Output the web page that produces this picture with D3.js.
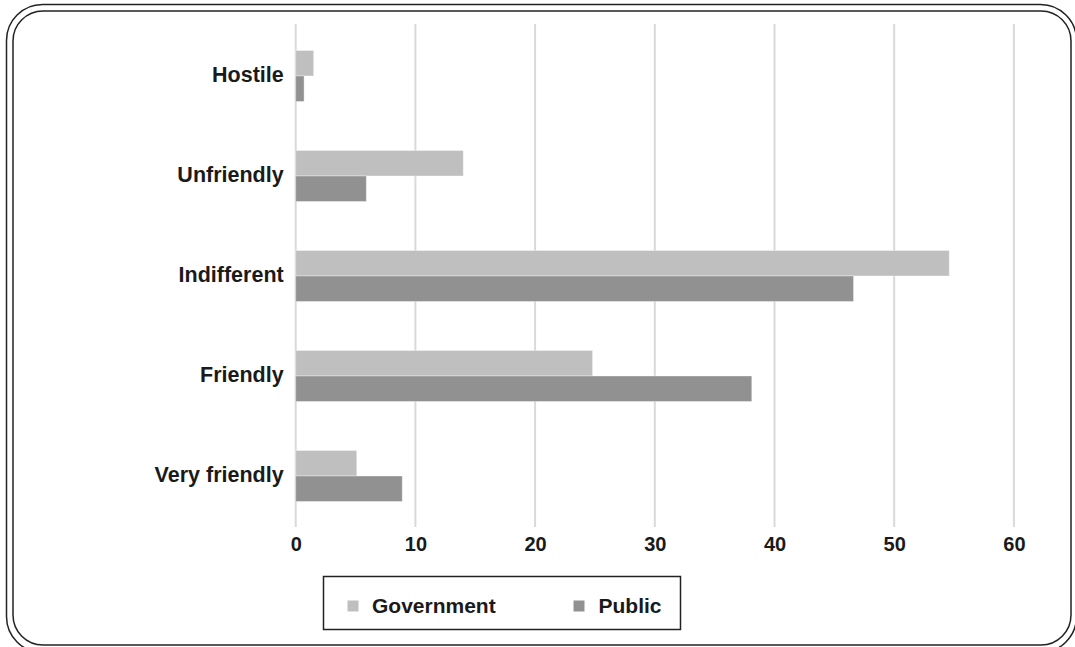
<!DOCTYPE html>
<html>
<head>
<meta charset="utf-8">
<script src="https://cdn.jsdelivr.net/npm/d3@7"></script>
<style>
  html, body { margin: 0; padding: 0; background: #fff; }
  svg { display: block; }
  text { font-family: "Liberation Sans", Arial, sans-serif; font-weight: bold; fill: #1a1a1a; }
</style>
</head>
<body>
<svg id="chart" width="1075" height="647"></svg>
<script>
// Attitude categories, top to bottom
const categories = ["Hostile", "Unfriendly", "Indifferent", "Friendly", "Very friendly"];
// Percentage of respondents per category
const governmentValues = [1.5, 14.0, 54.6, 24.8, 5.1];
const publicValues = [0.7, 5.9, 46.6, 38.1, 8.9];
const seriesNames = ["Government", "Public"];
const seriesColors = ["#bfbfbf", "#919191"];
const xTicks = [0, 10, 20, 30, 40, 50, 60];

const svg = d3.select("#chart");

// Double rounded frame
svg.append("rect")
  .attr("x", 6.5).attr("y", 4.5)
  .attr("width", 1070).attr("height", 648)
  .attr("rx", 36).attr("ry", 36)
  .attr("fill", "none").attr("stroke", "#222").attr("stroke-width", 1.5);
svg.append("rect")
  .attr("x", 13).attr("y", 11)
  .attr("width", 1058).attr("height", 634)
  .attr("rx", 30).attr("ry", 30)
  .attr("fill", "none").attr("stroke", "#222").attr("stroke-width", 1.5);

const plot = { left: 295.7, right: 1013.9, top: 26, bottom: 526 };

const x = d3.scaleLinear().domain([0, 60]).range([plot.left, plot.right]);
const y = d3.scaleBand().domain(categories)
  .range([plot.top, plot.bottom])
  .paddingInner(0.49).paddingOuter(0.245);
const ySub = d3.scaleBand().domain(seriesNames).range([0, y.bandwidth()]);

// Vertical gridlines
svg.append("g").selectAll("line")
  .data(xTicks)
  .join("line")
  .attr("x1", d => x(d)).attr("x2", d => x(d))
  .attr("y1", 24).attr("y2", 527)
  .attr("stroke", "#d9d9d9").attr("stroke-width", 2);

// Bars
const rows = categories.map((c, i) => ({
  cat: c,
  vals: [
    { s: seriesNames[0], v: governmentValues[i], color: seriesColors[0] },
    { s: seriesNames[1], v: publicValues[i], color: seriesColors[1] }
  ]
}));

const groups = svg.append("g").selectAll("g")
  .data(rows)
  .join("g")
  .attr("transform", d => `translate(0,${y(d.cat)})`);

groups.selectAll("rect")
  .data(d => d.vals)
  .join("rect")
  .attr("x", x(0))
  .attr("y", d => ySub(d.s))
  .attr("width", d => x(d.v) - x(0))
  .attr("height", ySub.bandwidth())
  .attr("fill", d => d.color)
  .attr("stroke", "rgba(255,255,255,0.35)")
  .attr("stroke-width", 1);

// Category labels
const yAxis = d3.axisLeft(y).tickSize(0).tickPadding(0);
const yg = svg.append("g").attr("transform", `translate(${plot.left - 12},0)`).call(yAxis);
yg.select(".domain").remove();
yg.selectAll("text")
  .attr("font-size", 21.5)
  .attr("font-family", null)
  .attr("dy", "0.3em")
  .attr("fill", "#1a1a1a");

// Value axis labels
const xAxis = d3.axisBottom(x).tickValues(xTicks).tickSize(0).tickPadding(0).tickFormat(d3.format("d"));
const xg = svg.append("g").attr("transform", `translate(0,551)`).call(xAxis);
xg.select(".domain").remove();
xg.selectAll("text")
  .attr("font-size", 20)
  .attr("font-family", null)
  .attr("y", 0).attr("dy", 0)
  .attr("fill", "#1a1a1a");

// Legend
const legend = svg.append("g");
legend.append("rect")
  .attr("x", 323.5).attr("y", 576.5)
  .attr("width", 357).attr("height", 53)
  .attr("fill", "#fff").attr("stroke", "#222").attr("stroke-width", 1.5);
const legendItems = [
  { name: seriesNames[0], color: seriesColors[0], sx: 347.5, tx: 372 },
  { name: seriesNames[1], color: seriesColors[1], sx: 573.5, tx: 598.5 }
];
legendItems.forEach(it => {
  legend.append("rect")
    .attr("x", it.sx).attr("y", 600.5)
    .attr("width", 11).attr("height", 11)
    .attr("fill", it.color);
  legend.append("text")
    .attr("x", it.tx).attr("y", 613)
    .attr("font-size", 21)
    .text(it.name);
});
</script>
</body>
</html>
